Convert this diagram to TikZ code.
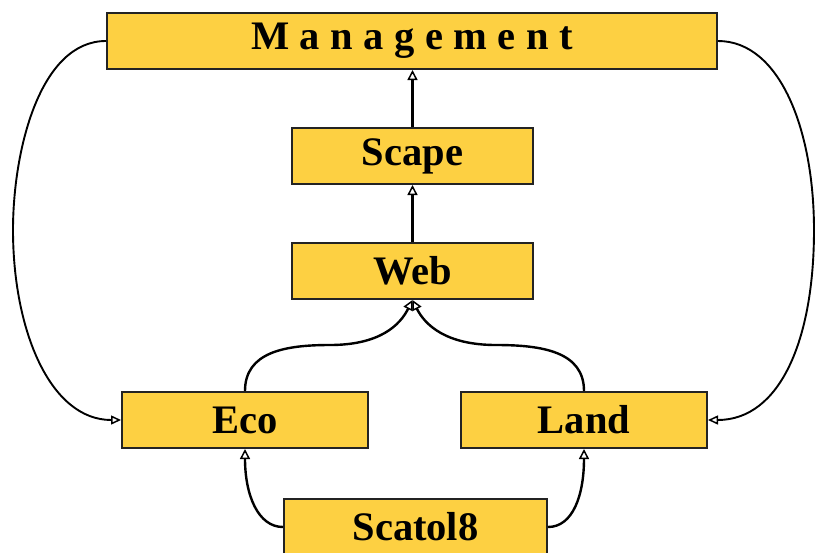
\documentclass[tikz,border=0pt]{standalone}
\usepackage{fontspec}
\setmainfont{Liberation Serif}
\usetikzlibrary{arrows.meta}
\definecolor{boxgold}{RGB}{253,208,66}
\definecolor{boxline}{RGB}{35,35,35}
\tikzset{
  box/.style={draw=boxline, line width=2pt, fill=boxgold, inner sep=0pt,
    font=\fontsize{40.5}{41}\selectfont\bfseries, text=black},
  link/.style={draw=black, line width=2.4pt, -{Triangle[open, length=10pt, width=10pt, line width=1.5pt]}},
  biglink/.style={draw=black, line width=1.9pt, -{Triangle[open, length=10pt, width=9pt, line width=1.5pt]}}
}
\newcommand{\spc}{\kern10.5pt}
\begin{document}
\begin{tikzpicture}[x=1pt,y=-1pt]
\useasboundingbox (0,0) rectangle (817,552);
\node[box, minimum width=610pt, minimum height=56pt] (man) at (412,41) {M\spc a\spc n\spc a\spc g\spc e\spc m\spc e\spc n\spc t};
\node[box, minimum width=241pt, minimum height=56pt] (scape) at (412.5,156) {Scape};
\node[box, minimum width=241pt, minimum height=56pt] (web) at (412.5,271) {Web};
\node[box, minimum width=246pt, minimum height=56pt] (eco) at (245,420) {Eco};
\node[box, minimum width=246pt, minimum height=56pt] (land) at (584,420) {Land};
\node[box, minimum width=263pt, minimum height=56pt] (sca) at (415.5,527) {Scatol8};
\coordinate (lm) at (13,230);
\coordinate (rm) at (814,230);
\coordinate (el) at (330,345);
\coordinate (lr) at (496,345);
\draw[link] (scape.north) -- (scape.north |- man.south);
\draw[link] (web.north) -- (web.north |- scape.south);
\draw[link] (eco.north) .. controls (245,352) and (285,345) .. (el) .. controls (380,345) and (400,325) .. (web.south);
\draw[link] (land.north) .. controls (584,352) and (543,345) .. (lr) .. controls (446,345) and (425,325) .. (web.south);
\draw[link] (sca.west) .. controls (258,527) and (245,495) .. (eco.south);
\draw[link] (sca.east) .. controls (573,527) and (584,495) .. (land.south);
\draw[biglink] (man.west) .. controls (40,41) and (13,150) .. (lm) .. controls (13,330) and (50,420) .. (eco.west);
\draw[biglink] (man.east) .. controls (780,41) and (814,130) .. (rm) .. controls (814,340) and (780,420) .. (land.east);
\end{tikzpicture}
\end{document}
